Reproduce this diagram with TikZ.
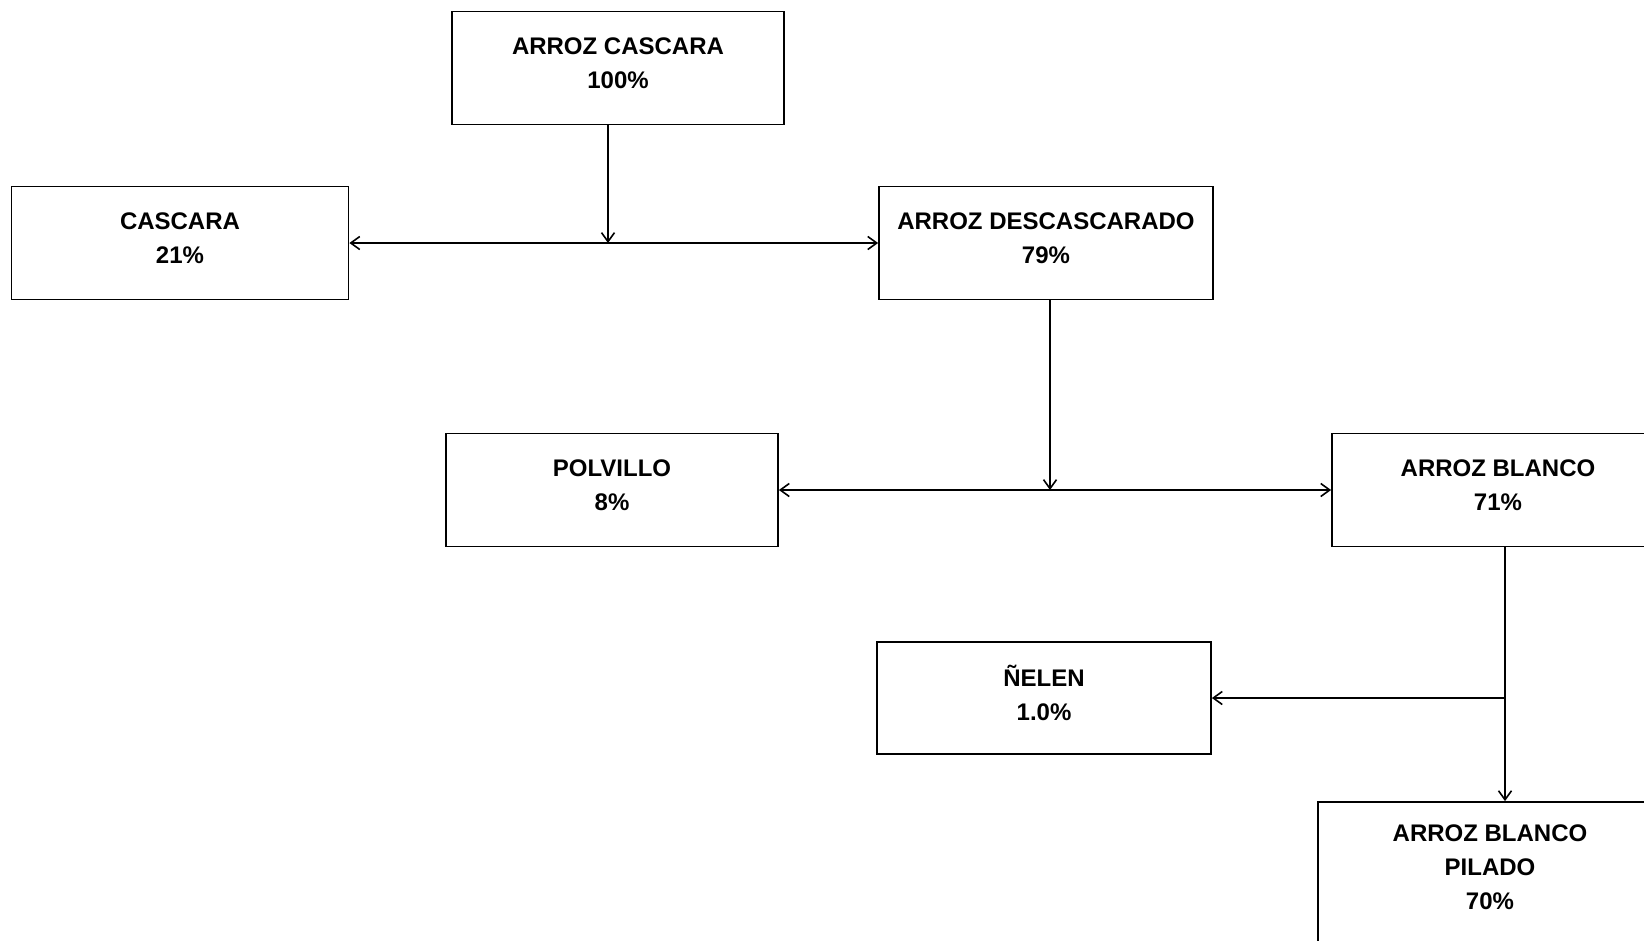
\documentclass[tikz,border=0pt]{standalone}
\usepackage{fontspec}
\setmainfont{Liberation Sans}
\usetikzlibrary{arrows.meta, positioning, calc}
\tikzset{
  caja/.style={rectangle, draw=black, line width=1.8pt, minimum width=332pt, minimum height=113pt, align=center, inner sep=0pt, text depth=10pt, font=\fontsize{24}{34}\selectfont\bfseries},
  flecha/.style={line width=1.6pt, -{Straight Barb[length=9pt,width=13pt]}}
}

\begin{document}
\begin{tikzpicture}[x=1pt, y=-1pt]

    % Marco de la figura
    \path[use as bounding box, fill=white] (0,0) rectangle (1644,940);

    % Cajas del balance
    \node[caja] (cascarar) at (618, 68)   {ARROZ CASCARA\\100\%};
    \node[caja, minimum width=337pt] (cascara) at (180, 243) {CASCARA\\21\%};
    \node[caja, minimum width=334pt] (descas) at (1046, 243) {ARROZ DESCASCARADO\\79\%};
    \node[caja] (polvillo) at (612, 490) {POLVILLO\\8\%};
    \node[caja] (blanco)   at (1498, 490) {ARROZ BLANCO\\71\%};
    \node[caja, minimum width=334pt, minimum height=112pt] (nelen) at (1044, 698) {ÑELEN\\1.0\%};
    \node[caja, minimum width=344pt, minimum height=140pt] (pilado) at (1490, 872) {ARROZ BLANCO\\PILADO\\70\%};

    % Puntos de reparto
    \coordinate (r1) at (608, 243);
    \coordinate (r2) at (1050, 490);
    \coordinate (r3) at (1505, 698);

    % Descascarado
    \draw[flecha] (cascarar.south -| r1) -- (r1);
    \draw[flecha] (r1) -- (cascara.east);
    \draw[flecha] (r1) -- (descas.west);

    % Pulido
    \draw[flecha] (descas.south -| r2) -- (r2);
    \draw[flecha] (r2) -- (polvillo.east);
    \draw[flecha] (r2) -- (blanco.west);

    % Seleccion
    \draw[flecha] (blanco.south -| r3) -- (pilado.north -| r3);
    \draw[flecha] (r3) -- (nelen.east);

\end{tikzpicture}
\end{document}
